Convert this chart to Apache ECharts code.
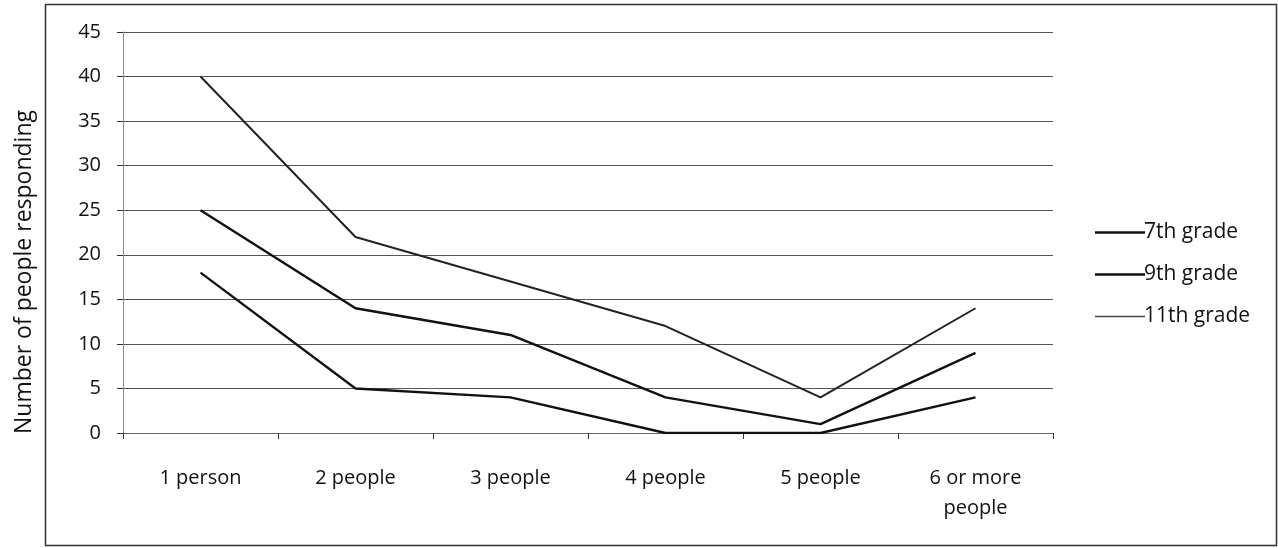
<!DOCTYPE html>
<html><head><meta charset="utf-8">
<script src="https://cdn.jsdelivr.net/npm/echarts@6/dist/echarts.min.js"></script>
<style>html,body{margin:0;padding:0;background:#fff}#c{width:1278px;height:548px}</style>
</head><body><div id="c"></div>
<script>
const categories = ['1 person', '2 people', '3 people', '4 people', '5 people', '6 or more\npeople'];
const seriesNames = ['7th grade', '9th grade', '11th grade'];
const grade7 = [18, 5, 4, 0, 0, 4];
const grade9 = [25, 14, 11, 4, 1, 9];
const grade11 = [40, 22, 17, 12, 4, 14];
const yTicks = [0, 45, 5];
const yTitle = 'Number of people responding';

const font = "'Open Sans', 'Noto Sans', sans-serif";
const chart = echarts.init(document.getElementById('c'));
chart.setOption({
  animation: false,
  textStyle: { fontFamily: font },
  graphic: [{
    type: 'rect', shape: { x: 45.5, y: 4.5, width: 1231, height: 541 },
    style: { fill: 'none', stroke: '#333', lineWidth: 1.5 }, silent: true
  }, {
    type: 'text', x: 24, y: 272, rotation: Math.PI / 2,
    style: { text: yTitle, fontSize: 23, fontFamily: font, fill: '#111', align: 'center', verticalAlign: 'middle' },
    silent: true
  }],
  grid: { left: 123, right: 225, top: 32, bottom: 115 },
  legend: {
    orient: 'vertical', left: 1090, top: 217, itemGap: 21,
    itemWidth: 50, itemHeight: 24,
    textStyle: { fontSize: 21, color: '#111', fontFamily: font, padding: [0, 0, 0, -6] },
    data: [
      { name: seriesNames[0], icon: 'path://M0,0H50V2.6H0Z', itemStyle: { color: '#111' } },
      { name: seriesNames[1], icon: 'path://M0,0H50V2.6H0Z', itemStyle: { color: '#111' } },
      { name: seriesNames[2], icon: 'path://M0,0H50V1.3H0Z', itemStyle: { color: '#444' } }
    ]
  },
  xAxis: {
    type: 'category', data: categories, boundaryGap: true,
    axisLine: { lineStyle: { color: '#666', width: 1 } },
    axisTick: { show: true, length: 6, lineStyle: { color: '#333' } },
    axisLabel: { fontSize: 20, color: '#111', margin: 30, lineHeight: 30, interval: 0 }
  },
  yAxis: {
    type: 'value', min: yTicks[0], max: yTicks[1], interval: yTicks[2],
    axisLine: { show: true, lineStyle: { color: '#888', width: 1 } },
    axisTick: { show: true, length: 6, lineStyle: { color: '#333' } },
    axisLabel: { fontSize: 20, color: '#111', margin: 22 },
    splitLine: { lineStyle: { color: '#555', width: 1 } }
  },
  series: [
    { name: seriesNames[0], type: 'line', data: grade7, symbol: 'none', lineStyle: { color: '#111', width: 2.4 } },
    { name: seriesNames[1], type: 'line', data: grade9, symbol: 'none', lineStyle: { color: '#111', width: 2.4 } },
    { name: seriesNames[2], type: 'line', data: grade11, symbol: 'none', lineStyle: { color: '#222', width: 2 } }
  ]
});
</script></body></html>
